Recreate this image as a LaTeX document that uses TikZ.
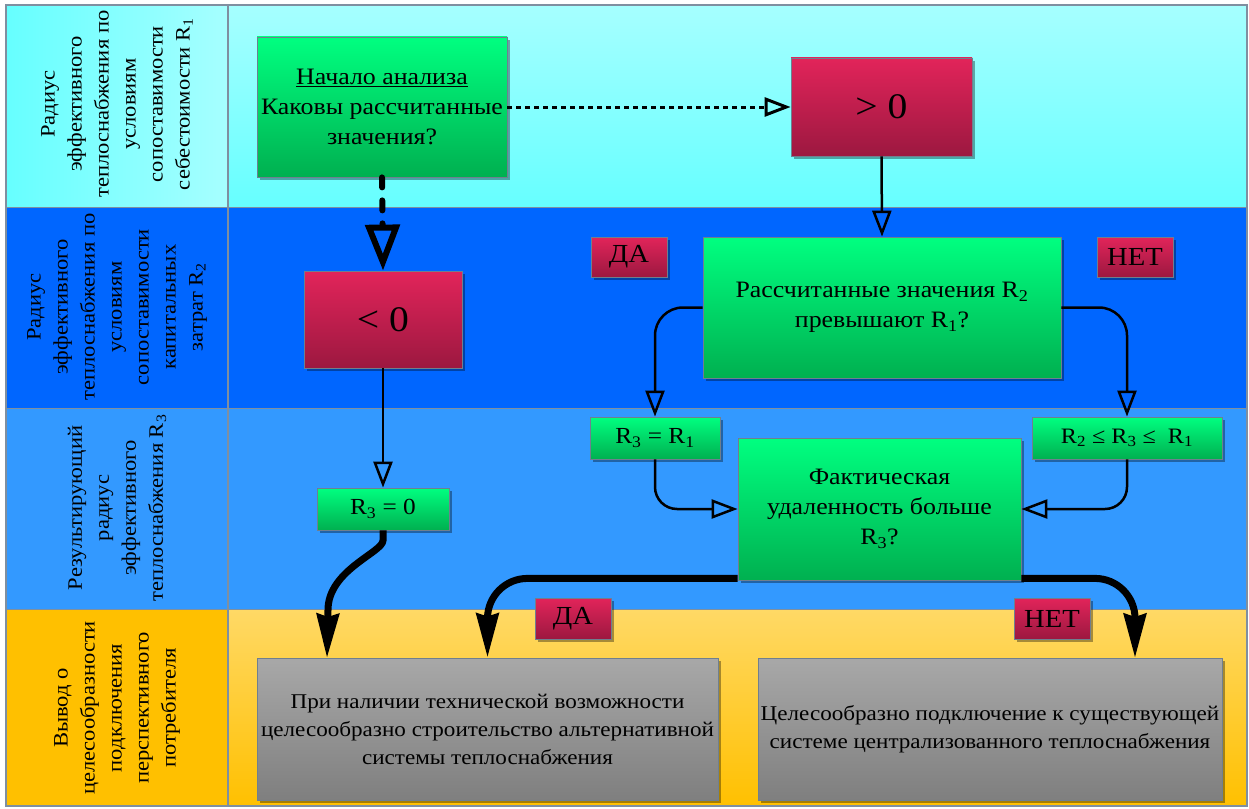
\documentclass[tikz,border=0pt]{standalone}
\usepackage{fontspec}
\setmainfont[FakeStretch=1.1]{Liberation Serif}
\usetikzlibrary{arrows.meta,shadows,calc}
\definecolor{gtop}{HTML}{00FF80}
\definecolor{gbot}{HTML}{00B050}
\definecolor{rtop}{HTML}{E2245A}
\definecolor{rbot}{HTML}{9C1840}
\definecolor{graytop}{HTML}{A8A8A8}
\definecolor{graybot}{HTML}{7F7F7F}
\definecolor{boxline}{HTML}{6F7F8F}
\definecolor{laneAtop}{HTML}{A6FFFF}
\definecolor{laneAbot}{HTML}{66FFFF}
\definecolor{laneB}{HTML}{0066FF}
\definecolor{laneC}{HTML}{3399FF}
\definecolor{laneD}{HTML}{FFC000}
\definecolor{laneDtop}{HTML}{FFD966}
\definecolor{cellline}{HTML}{7F8FA0}
\tikzset{
  box/.style={draw=boxline, line width=0.8pt, align=center, inner sep=0pt,
    drop shadow={shadow xshift=3pt, shadow yshift=-3pt, fill=black, opacity=0.35}},
  gbox/.style={box, top color=gtop, bottom color=gbot},
  rbox/.style={box, top color=rtop, bottom color=rbot},
  graybox/.style={box, top color=graytop, bottom color=graybot},
  lanelabel/.style={rotate=90, align=center, font=\fontsize{20.5}{27}\selectfont},
  thinarr/.style={line width=2.5pt, -{Triangle[open, length=26pt, width=19pt]}},
  dotarr/.style={line width=3pt, dash pattern=on 5pt off 4pt, -{Triangle[open, length=26pt, width=19pt]}},
  fatdash/.style={line width=6pt, line cap=round, dash pattern=on 10pt off 13pt, -{Triangle[open, length=46pt, width=34pt]}},
  fatarr/.style={line width=7pt, -{Stealth[length=44pt, width=22pt, inset=3pt]}},
  mainfont/.style={font=\fontsize{23.5}{30}\selectfont},
  smallfont/.style={font=\fontsize{23}{28}\selectfont},
  tagfont/.style={font=\fontsize{26}{30}\selectfont},
  bigfont/.style={font=\fontsize{36}{40}\selectfont},
  grayfont/.style={font=\fontsize{21}{28}\selectfont},
}
\begin{document}
\begin{tikzpicture}[x=1pt,y=-1pt]
\useasboundingbox (0,0) rectangle (1249,808);
% lanes
\shade[left color=laneAbot, right color=laneAtop] (6,5) rectangle (228,207);
\shade[top color=laneAtop, bottom color=laneAbot] (228,5) rectangle (1247,207);
\fill[laneB] (6,207) rectangle (1247,408);
\fill[laneC] (6,408) rectangle (1247,609);
\fill[laneD] (6,609) rectangle (228,806);
\shade[top color=laneDtop, bottom color=laneD] (228,609) rectangle (1247,806);
\draw[cellline, line width=1.5pt] (6,5) rectangle (1247,806);
\draw[cellline, line width=1.5pt] (228,5) -- (228,806);
\draw[cellline, line width=1pt] (6,207) -- (1247,207) (6,408) -- (1247,408) (6,609) -- (1247,609);
% lane labels
\node[lanelabel] (l1) at (117,104) {Радиус\\эффективного\\теплоснабжения по\\условиям\\сопоставимости\\себестоимости R\textsubscript{1}};
\node[lanelabel] (l2) at (117,307) {Радиус\\эффективного\\теплоснабжения по\\условиям\\сопоставимости\\капитальных\\затрат R\textsubscript{2}};
\node[lanelabel] (l3) at (117,508) {Результирующий\\радиус\\эффективного\\теплоснабжения R\textsubscript{3}};
\node[lanelabel] (l4) at (117,708) {Вывод о\\целесообразности\\подключения\\перспективного\\потребителя};
% boxes
\node[gbox, mainfont, minimum width=250pt, minimum height=140pt] (start) at (382,107)
  {\underline{Начало анализа}\\Каковы рассчитанные\\значения?};
\node[rbox, bigfont, minimum width=181pt, minimum height=98pt] (gt) at (881.5,107) {> 0};
\node[rbox, bigfont, minimum width=158pt, minimum height=97pt] (lt) at (383,319.5) {< 0};
\node[rbox, tagfont, minimum width=76pt, minimum height=40pt] (da1) at (629,257) {ДА};
\node[rbox, tagfont, minimum width=76pt, minimum height=40pt] (net1) at (1135,257) {НЕТ};
\node[gbox, mainfont, minimum width=358pt, minimum height=141pt] (rass) at (882,307.5)
  {Рассчитанные значения R\textsubscript{2}\\превышают R\textsubscript{1}?};
\node[gbox, smallfont, minimum width=130pt, minimum height=42pt] (r3r1) at (655,438) {R\textsubscript{3} = R\textsubscript{1}};
\node[gbox, font=\fontsize{22}{28}\selectfont, minimum width=190pt, minimum height=42pt] (r2r3) at (1127,438) {R\textsubscript{2} ≤ R\textsubscript{3} ≤\ \ R\textsubscript{1}};
\node[gbox, mainfont, minimum width=283pt, minimum height=142pt] (fact) at (879.5,509)
  {Фактическая\\удаленность больше\\R\textsubscript{3}?};
\node[gbox, smallfont, minimum width=132pt, minimum height=42pt] (r30) at (383,509) {R\textsubscript{3} = 0};
\node[rbox, tagfont, minimum width=76pt, minimum height=41pt] (da2) at (573,618.5) {ДА};
\node[rbox, tagfont, minimum width=76pt, minimum height=41pt] (net2) at (1052,618.5) {НЕТ};
\node[graybox, grayfont, minimum width=461pt, minimum height=142pt] (gl) at (487.5,729)
  {При наличии технической возможности\\целесообразно строительство альтернативной\\системы теплоснабжения};
\node[graybox, grayfont, minimum width=464pt, minimum height=142pt] (gr) at (990,729)
  {Целесообразно подключение к существующей\\системе централизованного теплоснабжения};
\coordinate (glin) at (327,658);
\coordinate (grin) at (1135,658);
% connectors
\draw[dotarr] (start.east) -- (gt.west);
\draw[fatdash] (start.south) -- (lt.north);
\draw[thinarr] (gt.south) -- (rass.north);
\draw[thinarr] (lt.south) -- (r30.north);
\draw[thinarr, rounded corners=28pt] (rass.west) -| (r3r1.north);
\draw[thinarr, rounded corners=28pt] (rass.east) -| (r2r3.north);
\draw[thinarr, rounded corners=22pt] (r3r1.south) |- (fact.west);
\draw[thinarr, rounded corners=22pt] (r2r3.south) |- (fact.east);
\draw[fatarr, rounded corners=40pt] ($(fact.south west)+(0,-2)$) -| (gl.north);
\draw[fatarr, rounded corners=40pt] ($(fact.south east)+(0,-2)$) -| (grin);
\draw[fatarr] (r30.south) -- ++(0,10) .. controls +(0,12) and +(0,-40) .. (328,610) -- (glin);
\end{tikzpicture}
\end{document}
